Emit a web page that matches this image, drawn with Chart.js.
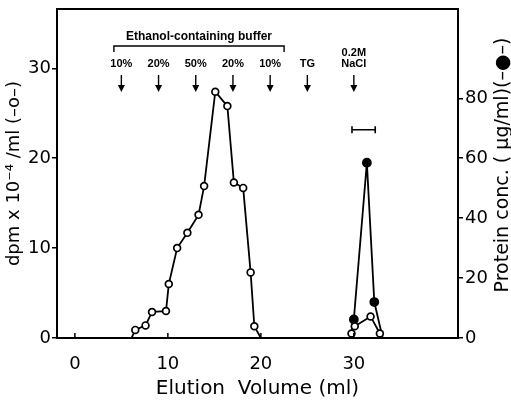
<!DOCTYPE html>
<html lang="en">
<head>
    <meta charset="UTF-8">
    <title>Elution profile</title>
    <style>
        body { margin: 0; background: #fff; }
        #wrap { width: 511px; height: 403px; position: relative; }
    </style>
    <script src="https://cdn.jsdelivr.net/npm/chart.js@4/dist/chart.umd.min.js"></script>
</head>
<body>
<div id="wrap"><canvas id="elution"></canvas></div>
<script>
    // radioactivity (open circles), first and second peak
    const dpmVolume1 = [6.1, 6.5, 7.6, 8.3, 9.8, 10.1, 11.0, 12.1, 13.3, 13.9, 15.1, 16.4, 17.1, 18.1, 18.9, 19.3, 20.0];
    const dpmValues1 = [0, 0.9, 1.4, 2.9, 3.0, 6.0, 10.0, 11.7, 13.7, 16.9, 27.4, 25.8, 17.3, 16.7, 7.3, 1.3, 0];
    const dpmVolume2 = [29.75, 30.1, 31.8, 32.8];
    const dpmValues2 = [0.5, 1.3, 2.4, 0.5];

    // protein concentration (filled circles)
    const proteinVolume = [29.6, 30.0, 31.4, 32.2, 33.1];
    const proteinValues = [0, 6.2, 58.5, 12.0, 0];

    // tick labels
    const xTicks = [0, 10, 20, 30];
    const dpmTicks = [0, 10, 20, 30];
    const proteinTicks = [0, 20, 40, 60, 80];

    // elution steps marked by arrows
    const stepVolumes = [5, 9, 13, 17, 21, 25, 30];
    const stepLabels = [['10%'], ['20%'], ['50%'], ['20%'], ['10%'], ['TG'], ['0.2M', 'NaCl']];
    const bufferRange = [4.2, 22.5];
    const poolRange = [29.8, 32.3];
    const poolLevel = 69.5;

    const FONT = "'DejaVu Sans', sans-serif";

    function pts(xs, ys) {
        return xs.map((x, i) => ({x: x, y: ys[i]}));
    }

    // zero end points are just where the line meets the axis, no marker
    const markerSize = r => ctx => (ctx.raw && ctx.raw.y === 0 ? 0 : r);

    const openStyle = {
        yAxisID: 'y',
        borderColor: '#000',
        borderWidth: 1.8,
        pointBackgroundColor: '#fff',
        pointBorderColor: '#000',
        pointBorderWidth: 1.7,
        pointRadius: markerSize(3.4),
        tension: 0
    };

    // arrows, bracket, pool bar, right title and inward x ticks
    const annotations = {
        id: 'annotations',
        afterDraw(chart) {
            const {ctx, chartArea, scales} = chart;
            const x = scales.x, y2 = scales.y2;
            ctx.save();
            ctx.strokeStyle = '#000';
            ctx.fillStyle = '#000';

            // top frame line
            ctx.lineWidth = 2;
            ctx.beginPath();
            ctx.moveTo(chartArea.left, chartArea.top);
            ctx.lineTo(chartArea.right, chartArea.top);
            ctx.stroke();

            // inward ticks on x axis
            ctx.lineWidth = 1.5;
            xTicks.forEach(v => {
                const px = x.getPixelForValue(v);
                ctx.beginPath();
                ctx.moveTo(px, chartArea.bottom);
                ctx.lineTo(px, chartArea.bottom - 5);
                ctx.stroke();
            });

            // bracket for ethanol buffer
            const bx0 = x.getPixelForValue(bufferRange[0]);
            const bx1 = x.getPixelForValue(bufferRange[1]);
            const by = chartArea.top + 37;
            ctx.lineWidth = 1.4;
            ctx.beginPath();
            ctx.moveTo(bx0, by + 6);
            ctx.lineTo(bx0, by);
            ctx.lineTo(bx1, by);
            ctx.lineTo(bx1, by + 6);
            ctx.stroke();
            ctx.font = "bold 12px 'Liberation Sans', sans-serif";
            ctx.textAlign = 'center';
            ctx.textBaseline = 'middle';
            ctx.fillText('Ethanol-containing buffer', (bx0 + bx1) / 2, chartArea.top + 28);

            // step arrows
            ctx.font = "bold 11px 'Liberation Sans', sans-serif";
            stepVolumes.forEach((v, i) => {
                const px = x.getPixelForValue(v);
                const lines = stepLabels[i];
                lines.forEach((t, j) => {
                    ctx.fillText(t, px, chartArea.top + 55 - (lines.length - 1 - j) * 11);
                });
                ctx.lineWidth = 1.4;
                ctx.beginPath();
                ctx.moveTo(px, chartArea.top + 66);
                ctx.lineTo(px, chartArea.top + 80);
                ctx.stroke();
                ctx.beginPath();
                ctx.moveTo(px - 3.5, chartArea.top + 76);
                ctx.lineTo(px + 3.5, chartArea.top + 76);
                ctx.lineTo(px, chartArea.top + 83);
                ctx.closePath();
                ctx.fill();
            });

            // pooled fractions bar
            const p0 = x.getPixelForValue(poolRange[0]);
            const p1 = x.getPixelForValue(poolRange[1]);
            const py = y2.getPixelForValue(poolLevel);
            ctx.lineWidth = 1.6;
            ctx.beginPath();
            ctx.moveTo(p0, py); ctx.lineTo(p1, py);
            ctx.moveTo(p0, py - 3.5); ctx.lineTo(p0, py + 3.5);
            ctx.moveTo(p1, py - 3.5); ctx.lineTo(p1, py + 3.5);
            ctx.stroke();

            // right axis title, read bottom to top
            ctx.translate(503, 165);
            ctx.rotate(-Math.PI / 2);
            ctx.font = '19px ' + FONT;
            ctx.fillText('Protein conc. ( \u00b5g/ml)(\u2013\u25cf\u2013)', 0, 0);
            ctx.restore();
        }
    };

    const ctx = document.getElementById('elution').getContext('2d');
    const chart = new Chart(ctx, {
        type: 'line',
        data: {
            datasets: [
                Object.assign({data: pts(dpmVolume1, dpmValues1)}, openStyle),
                Object.assign({data: pts(dpmVolume2, dpmValues2)}, openStyle),
                {
                    data: pts(proteinVolume, proteinValues),
                    yAxisID: 'y2',
                    borderColor: '#000',
                    borderWidth: 1.8,
                    pointBackgroundColor: '#000',
                    pointBorderColor: '#000',
                    pointRadius: markerSize(4),
                    tension: 0
                }
            ]
        },
        options: {
            responsive: true,
            maintainAspectRatio: false,
            animation: false,
            layout: { padding: { top: 9, left: 0, right: 0, bottom: 0 } },
            plugins: { legend: { display: false }, tooltip: { enabled: false } },
            scales: {
                x: {
                    type: 'linear',
                    min: -1.92,
                    max: 41.2,
                    afterBuildTicks: s => { s.ticks = xTicks.map(v => ({value: v})); },
                    afterFit: s => { s.height = 65; s.paddingLeft = 0; s.paddingRight = 0; },
                    grid: { display: false },
                    border: { display: true, color: '#000', width: 2 },
                    ticks: { color: '#000', font: { family: FONT, size: 18 }, padding: 8, maxRotation: 0 },
                    title: {
                        display: true,
                        text: 'Elution  Volume (ml)',
                        color: '#000',
                        font: { family: FONT, size: 20 },
                        padding: { top: 0, bottom: 2 }
                    }
                },
                y: {
                    position: 'left',
                    min: 0,
                    max: 36.6,
                    afterBuildTicks: s => { s.ticks = dpmTicks.map(v => ({value: v})); },
                    afterFit: s => { s.width = 57; s.paddingTop = 0; s.paddingBottom = 0; },
                    grid: { drawOnChartArea: false, drawTicks: true, tickLength: 5, color: '#000', lineWidth: 1.5 },
                    border: { display: true, color: '#000', width: 2 },
                    ticks: { color: '#000', font: { family: FONT, size: 18 }, padding: 1 },
                    title: {
                        display: true,
                        text: 'dpm x 10\u207b\u2074 /ml (\u2013o\u2013)',
                        color: '#000',
                        font: { family: FONT, size: 18 },
                        padding: { top: 4, bottom: 0 }
                    }
                },
                y2: {
                    position: 'right',
                    min: 0,
                    max: 109.8,
                    afterBuildTicks: s => { s.ticks = proteinTicks.map(v => ({value: v})); },
                    afterFit: s => { s.width = 53; s.paddingTop = 0; s.paddingBottom = 0; },
                    grid: { drawOnChartArea: false, drawTicks: true, tickLength: 5, color: '#000', lineWidth: 1.5 },
                    border: { display: true, color: '#000', width: 2 },
                    ticks: { color: '#000', font: { family: FONT, size: 18 }, padding: 2 }
                }
            }
        },
        plugins: [annotations]
    });
</script>
</body>
</html>
